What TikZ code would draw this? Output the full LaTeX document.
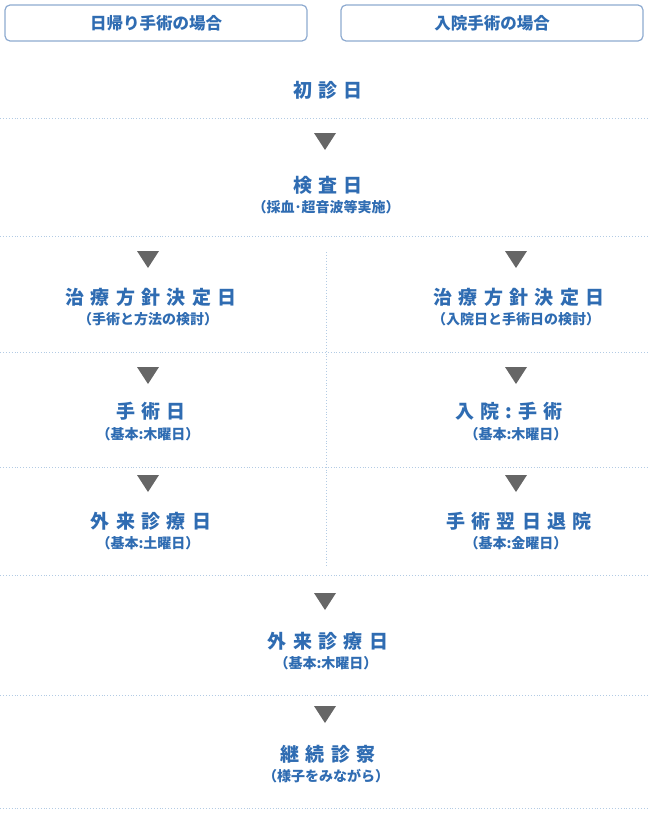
\documentclass[tikz,border=0pt]{standalone}
\usepackage{fontspec}
\newfontfamily\jp{Noto Sans CJK JP}
\newfontfamily\jpsp{Noto Sans CJK JP}[LetterSpace=33]
\definecolor{txtblue}{HTML}{2F6CB2}
\definecolor{boxline}{HTML}{8DAAD0}
\definecolor{dotline}{HTML}{B3CBE4}
\definecolor{arrowgray}{HTML}{666666}
\tikzset{
  hdr/.style={draw=boxline, line width=1.2pt, rounded corners=5pt, minimum width=302pt, minimum height=36pt, text=txtblue, font=\jp\bfseries\fontsize{16.5pt}{18pt}\selectfont, inner sep=0pt},
  ttl/.style={text=txtblue, font=\jpsp\bfseries\fontsize{19pt}{21pt}\selectfont, inner sep=0pt},
  sub/.style={text=txtblue, font=\jp\bfseries\fontsize{14pt}{16pt}\selectfont, inner sep=0pt},
  sep/.style={draw=dotline, line width=0.9pt, dotted},
  tri/.style={fill=arrowgray, draw=none},
}
\newcommand{\tridown}[2]{\fill[tri] (#1-11,#2) -- (#1+11,#2) -- (#1,#2+17) -- cycle;}
\begin{document}
\begin{tikzpicture}[x=1pt,y=-1pt]
\useasboundingbox (0,0) rectangle (648,814);
% headers
\node[hdr] (h1) at (156,23) {日帰り手術の場合};
\node[hdr] (h2) at (492,23) {入院手術の場合};
% separators
\foreach \yy in {118,236,352,467,575,695,808}
  \draw[sep] (0,\yy) -- (648,\yy);
\draw[sep] (326,252) -- (326,566);
% triangles
\tridown{325}{133}
\tridown{148}{251}
\tridown{516}{251}
\tridown{148}{367}
\tridown{516}{367}
\tridown{148}{475}
\tridown{516}{475}
\tridown{325}{593}
\tridown{325}{706}
% texts
\node[ttl] (t1) at (328,90) {初診日};
\node[ttl] (t2) at (328,185) {検査日};
\node[sub] (s2) at (326,207) {（採血･超音波等実施）};
\node[ttl] (l1) at (151,297) {治療方針決定日};
\node[sub] (ls1) at (148,319) {（手術と方法の検討）};
\node[ttl] (r1) at (519,297) {治療方針決定日};
\node[sub] (rs1) at (516,319) {（入院日と手術日の検討）};
\node[ttl] (l2) at (151,411) {手術日};
\node[sub] (ls2) at (148,434) {（基本:木曜日）};
\node[ttl] (r2) at (509,411) {入院:手術};
\node[sub] (rs2) at (516,434) {（基本:木曜日）};
\node[ttl] (l3) at (151,521) {外来診療日};
\node[sub] (ls3) at (148,543) {（基本:土曜日）};
\node[ttl] (r3) at (519,521) {手術翌日退院};
\node[sub] (rs3) at (516,543) {（基本:金曜日）};
\node[ttl] (t3) at (328,641) {外来診療日};
\node[sub] (s3) at (326,663) {（基本:木曜日）};
\node[ttl] (t4) at (328,754) {継続診察};
\node[sub] (s4) at (326,776) {（様子をみながら）};
\end{tikzpicture}
\end{document}
